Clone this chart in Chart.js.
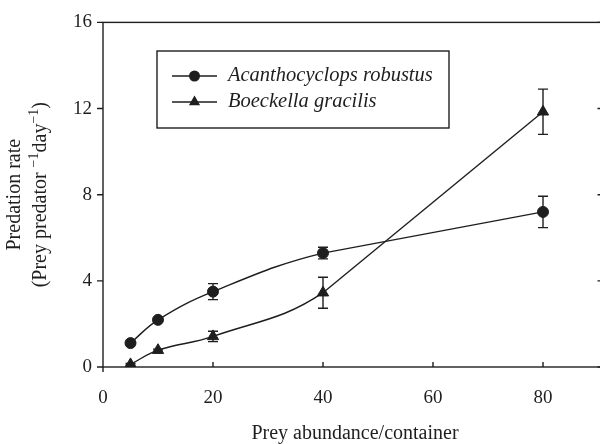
<!DOCTYPE html>
<html>
<head>
<meta charset="utf-8">
<script src="https://cdn.jsdelivr.net/npm/chart.js@4.4.1/dist/chart.umd.min.js"></script>
<style>
  html, body { margin: 0; padding: 0; background: #fff; }
  #wrap { width: 600px; height: 444px; overflow: hidden; position: relative; }
  #chart { display: block; width: 611px; height: 444px; }
</style>
</head>
<body>
<div id="wrap"><canvas id="chart" width="611" height="444"></canvas></div>
<script>
// Data
const preyAbundance = [5, 10, 20, 40, 80];
const acanthoRate = [1.11, 2.19, 3.5, 5.29, 7.2];
const acanthoErr = [0.05, 0.05, 0.37, 0.27, 0.73];
const boeckRate = [0.12, 0.78, 1.42, 3.45, 11.85];
const boeckErr = [0.04, 0.05, 0.24, 0.72, 1.05];
const xTicks = [0, 20, 40, 60, 80];
const yTicks = [0, 4, 8, 12, 16];
const seriesNames = ["Acanthocyclops robustus", "Boeckella gracilis"];

const ink = "#1e1e1e";
const serif = "'Liberation Serif', 'DejaVu Serif', serif";

function pts(ys, from, to) {
  return preyAbundance.slice(from, to).map((x, i) => ({ x: x, y: ys[from + i] }));
}

// Smooth curve up to 40 (last curved piece hidden), straight segment 40 -> 80
function seriesSets(ys, errs, style, radius) {
  return [
    {
      data: pts(ys, 0, 5), errs: errs, tension: 0.4,
      pointStyle: style, pointRadius: radius,
      segment: { borderColor: (c) => (c.p1DataIndex === 4 ? "rgba(0,0,0,0)" : ink) },
    },
    {
      data: pts(ys, 3, 5), errs: [0, 0], tension: 0,
      pointStyle: style, pointRadius: 0,
    },
  ];
}

const datasets = []
  .concat(seriesSets(acanthoRate, acanthoErr, "circle", 5.5))
  .concat(seriesSets(boeckRate, boeckErr, "triangle", 6.5))
  .map((d) => Object.assign(d, {
    showLine: true,
    borderColor: ink,
    borderWidth: 1.4,
    backgroundColor: ink,
    pointBackgroundColor: ink,
    pointBorderColor: ink,
    pointBorderWidth: 1,
  }));

// Error bars under the markers
const errorBars = {
  id: "errorBars",
  beforeDatasetsDraw(chart) {
    const ctx = chart.ctx;
    const xs = chart.scales.x, ys = chart.scales.y;
    ctx.save();
    ctx.strokeStyle = ink;
    ctx.lineWidth = 1.4;
    chart.data.datasets.forEach((ds) => {
      ds.data.forEach((p, i) => {
        const e = ds.errs[i];
        if (!e) return;
        const px = xs.getPixelForValue(p.x);
        const top = ys.getPixelForValue(p.y + e);
        const bot = ys.getPixelForValue(p.y - e);
        ctx.beginPath();
        ctx.moveTo(px, top); ctx.lineTo(px, bot);
        ctx.moveTo(px - 5, top); ctx.lineTo(px + 5, top);
        ctx.moveTo(px - 5, bot); ctx.lineTo(px + 5, bot);
        ctx.stroke();
      });
    });
    ctx.restore();
  },
};

// Frame, tick marks, axis titles and legend box
const decorations = {
  id: "decorations",
  afterDraw(chart) {
    const ctx = chart.ctx;
    const a = chart.chartArea;
    const xs = chart.scales.x, ys = chart.scales.y;
    ctx.save();
    ctx.strokeStyle = ink;
    ctx.lineWidth = 1.4;
    ctx.strokeRect(a.left, a.top, a.right - a.left, a.bottom - a.top);

    ctx.beginPath();
    yTicks.forEach((v) => {
      const py = ys.getPixelForValue(v);
      ctx.moveTo(a.left - 6, py); ctx.lineTo(a.left, py);
      ctx.moveTo(a.right - 6, py); ctx.lineTo(a.right, py);
    });
    xTicks.forEach((v) => {
      const px = xs.getPixelForValue(v);
      if (v === 0) { ctx.moveTo(px, a.bottom); ctx.lineTo(px, a.bottom + 5); }
      else { ctx.moveTo(px, a.bottom - 5); ctx.lineTo(px, a.bottom); }
    });
    ctx.stroke();

    // x title, centred like the reference
    ctx.fillStyle = ink;
    ctx.font = "20px " + serif;
    ctx.textAlign = "center";
    ctx.textBaseline = "middle";
    ctx.fillText("Prey abundance/container", 355, 434);

    // y title, two rotated lines with superscripts
    const cy = (a.top + a.bottom) / 2;
    ctx.save();
    ctx.translate(15, cy);
    ctx.rotate(-Math.PI / 2);
    ctx.fillText("Predation rate", 0, 0);
    ctx.restore();

    const parts = [
      { t: "(Prey predator ", sup: false },
      { t: "\u22121", sup: true },
      { t: "day", sup: false },
      { t: "\u22121", sup: true },
      { t: ")", sup: false },
    ];
    const mainFont = "20px " + serif, supFont = "14px " + serif;
    let total = 0;
    parts.forEach((p) => {
      ctx.font = p.sup ? supFont : mainFont;
      p.w = ctx.measureText(p.t).width;
      total += p.w;
    });
    ctx.save();
    ctx.translate(41, cy);
    ctx.rotate(-Math.PI / 2);
    ctx.textAlign = "left";
    let tx = -total / 2;
    parts.forEach((p) => {
      ctx.font = p.sup ? supFont : mainFont;
      ctx.fillText(p.t, tx, p.sup ? -7 : 0);
      tx += p.w;
    });
    ctx.restore();

    // legend
    ctx.strokeRect(157, 51, 292, 77);
    const rows = [76, 102];
    const styles = ["circle", "triangle"];
    rows.forEach((ry, i) => {
      ctx.beginPath();
      ctx.moveTo(172, ry); ctx.lineTo(217, ry);
      ctx.stroke();
      ctx.beginPath();
      if (styles[i] === "circle") {
        ctx.arc(194.5, ry, 5.5, 0, Math.PI * 2);
      } else {
        ctx.moveTo(194.5, ry - 6.5);
        ctx.lineTo(194.5 + 5.6, ry + 3.25);
        ctx.lineTo(194.5 - 5.6, ry + 3.25);
        ctx.closePath();
      }
      ctx.fill();
      ctx.font = "italic 20.5px " + serif;
      ctx.textAlign = "left";
      ctx.fillText(seriesNames[i], 228, ry);
    });
    ctx.restore();
  },
};

new Chart(document.getElementById("chart"), {
  type: "scatter",
  data: { datasets: datasets },
  options: {
    responsive: false,
    animation: false,
    layout: { padding: { top: 18, right: 0, left: 0, bottom: 0 } },
    plugins: { legend: { display: false }, tooltip: { enabled: false } },
    scales: {
      x: {
        type: "linear",
        min: 0,
        max: 91,
        grid: { display: false, drawTicks: false },
        border: { display: false },
        afterBuildTicks: (axis) => { axis.ticks = xTicks.map((v) => ({ value: v })); },
        afterFit: (axis) => {
          axis.height = 77;
          axis.paddingLeft = 0;
          axis.paddingRight = 0;
        },
        ticks: { padding: 20, color: ink, font: { family: serif, size: 19 } },
      },
      y: {
        type: "linear",
        min: 0,
        max: 16,
        grid: { display: false, drawTicks: false },
        border: { display: false },
        afterBuildTicks: (axis) => { axis.ticks = yTicks.map((v) => ({ value: v })); },
        afterFit: (axis) => { axis.width = 103; },
        ticks: { padding: 11, color: ink, font: { family: serif, size: 19 } },
      },
    },
  },
  plugins: [errorBars, decorations],
});
</script>
</body>
</html>
